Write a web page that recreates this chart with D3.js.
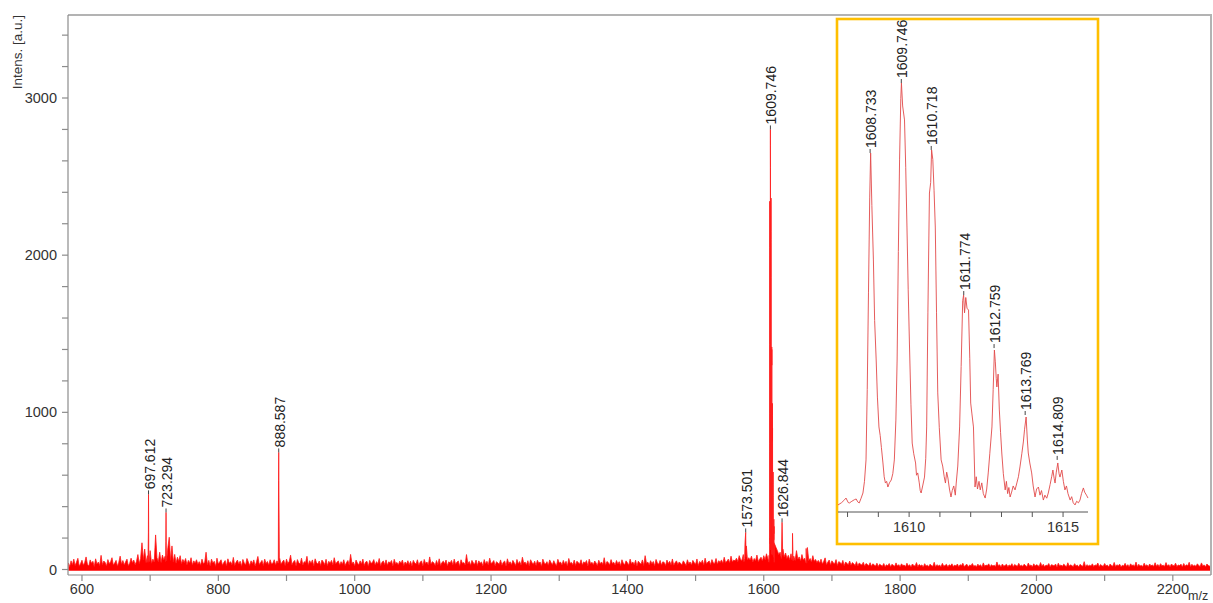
<!DOCTYPE html>
<html><head><meta charset="utf-8">
<script src="https://cdn.jsdelivr.net/npm/d3@7"></script>
<style>
body{margin:0;background:#fff}
svg{display:block}
text{font-family:"Liberation Sans",Arial,Helvetica,sans-serif}
</style>
</head><body>
<svg id="chart" width="1213" height="603"></svg>
<script>
// ---------------- DATA ----------------
// baseline noise of the spectrum, sampled every 2 m/z starting at 580
const noiseStart = 580;
const noiseStep = 2;
const noiseIntens = [
// 580-678
42,18,55,30,66,25,48,71,20,38,59,27,45,80,33,22,61,40,52,19,
68,35,47,26,90,31,54,44,23,63,37,50,75,28,41,58,21,46,85,34,
57,29,49,66,24,39,72,43,60,31,
// 680-778
52,95,38,70,170,62,130,44,88,56,
120,40,66,48,220,75,50,110,45,92,
60,85,70,140,205,58,150,47,96,40,
78,52,88,36,64,45,70,30,58,42,
75,28,55,40,62,33,50,27,66,38,
// 780-878
45,110,30,58,24,66,41,52,20,72,35,48,62,27,44,57,22,68,39,50,
31,77,26,46,60,34,53,21,64,42,29,70,48,25,55,37,61,23,49,83,
32,44,58,26,66,38,51,28,62,35,
// 880-978
40,62,28,55,44,70,33,49,60,25,
66,38,52,91,30,47,58,24,63,41,
36,72,29,50,45,84,27,56,39,61,
22,68,43,35,54,26,60,48,31,65,
24,52,40,58,29,75,37,46,55,27,
// 980-1078
50,33,62,25,45,57,28,96,38,48,
23,60,41,30,55,35,66,26,47,52,
21,58,39,44,63,28,50,36,70,24,
46,54,31,61,27,49,42,57,22,65,
37,45,29,53,40,60,25,48,34,56,
// 1080-1178
30,52,24,58,41,35,62,27,46,55,
22,64,38,48,29,80,34,50,43,26,
57,31,68,25,45,53,36,60,23,49,
41,58,28,66,33,47,54,21,62,39,
44,30,95,36,51,27,58,42,34,60,
// 1180-1278
26,55,40,48,23,63,35,52,29,72,
38,45,57,24,50,41,33,61,27,46,
54,22,68,37,49,30,58,43,25,64,
36,51,28,78,40,47,31,56,24,62,
45,34,53,26,59,39,48,21,66,42,
// 1280-1378
35,50,27,61,44,30,56,38,24,65,
41,47,29,58,34,52,22,70,39,45,
31,60,26,53,43,35,62,28,49,40,
57,23,66,37,46,30,54,42,25,59,
36,48,32,75,27,51,44,29,63,38,
// 1380-1478
46,28,57,35,50,24,62,40,31,55,
43,27,66,37,48,30,59,22,53,41,
34,61,26,88,39,47,29,56,36,51,
23,64,42,33,58,28,49,45,25,60,
38,52,30,67,27,44,55,32,48,39,
// 1480-1578
30,55,41,26,62,37,48,29,58,44,
33,67,25,51,40,59,28,72,36,47,
54,31,63,42,38,70,34,56,45,61,
39,78,44,52,66,41,85,48,60,55,
72,50,88,62,58,95,70,80,64,75,
// 1580-1678
60,85,48,70,56,92,50,66,78,54,
88,62,100,70,90,90,90,90,160,140,
120,95,110,85,130,80,105,70,90,62,
100,75,85,58,120,66,80,54,95,60,
72,50,140,58,70,48,88,52,64,44,
// 1680-1778
58,40,66,35,52,74,30,47,60,28,
55,42,36,63,26,50,45,33,58,24,
48,39,30,54,27,44,36,25,50,22,
41,34,28,46,21,38,32,24,43,20,
36,29,22,40,19,34,27,21,38,18,
// 1780-1878
30,24,38,18,33,27,20,42,22,31,
17,36,25,28,19,40,23,30,16,35,
26,21,44,18,32,24,29,15,37,22,
27,19,34,25,20,46,17,31,23,28,
18,39,21,26,33,16,30,24,36,19,
// 1880-1978
28,22,35,17,31,25,40,19,27,33,
16,29,24,38,20,26,18,34,23,30,
15,42,21,28,25,36,17,31,22,27,
19,48,24,30,16,35,21,26,33,18,
29,23,37,17,32,25,20,39,22,27,
// 1980-2078
20,34,25,18,41,23,29,16,36,22,
30,26,19,44,21,33,17,28,24,38,
18,31,27,22,35,15,40,23,29,20,
34,26,17,43,21,30,24,19,37,22,
28,16,33,25,20,50,18,31,23,27,
// 2080-2178
22,36,19,29,25,41,17,32,24,20,
38,23,28,16,35,26,21,45,19,30,
24,34,18,27,22,39,20,31,16,36,
25,29,21,47,18,33,23,26,19,40,
22,30,17,35,24,28,20,43,21,32,
// 2180-2256
18,37,24,27,20,44,22,31,17,35,
26,23,40,19,29,25,34,16,38,21,
30,24,46,18,33,22,27,20,36,25,
19,42,23,29,17,35,26,21,31
];

// individual peaks of the full spectrum (m/z, intensity)
const peakMz = [
696.8,697.4,697.612,697.9,698.4,
722.6,723.0,723.294,723.6,724.1,
887.8,888.3,888.587,888.9,889.5,
1571.0,1572.5,1573.501,1574.5,1576.0,
1625.8,1626.844,1627.8,
1641.5,1642.2,1643.0,
1661.5,1662.2,1663.0
];
const peakIntens = [
45,235,478,200,50,
50,180,363,150,55,
40,567,745,480,60,
50,170,236,150,60,
70,300,90,
60,230,55,
45,134,40
];

// isotope cluster (zoomed inset), m/z and intensity
const insetMz = [
1607.69,1607.80,1607.88,1607.95,1608.02,1608.06,1608.14,1608.22,1608.28,1608.33,
1608.38,1608.44,1608.50,1608.55,1608.60,1608.64,1608.68,1608.72,1608.75,1608.79,
1608.84,1608.88,1608.93,1608.97,1609.02,1609.06,1609.10,1609.15,1609.19,1609.23,
1609.27,1609.31,1609.36,1609.42,1609.47,1609.52,1609.57,1609.61,1609.65,1609.69,
1609.73,1609.75,1609.79,1609.85,1609.89,1609.93,1609.97,1610.01,1610.06,1610.10,
1610.15,1610.21,1610.24,1610.28,1610.33,1610.36,1610.39,1610.44,1610.50,1610.54,
1610.57,1610.61,1610.66,1610.70,1610.73,1610.77,1610.81,1610.85,1610.89,1610.93,
1610.98,1611.04,1611.09,1611.14,1611.18,1611.22,1611.26,1611.31,1611.36,1611.40,
1611.45,1611.50,1611.53,1611.58,1611.64,1611.69,1611.74,1611.77,1611.80,1611.84,
1611.88,1611.93,1611.97,1612.00,1612.04,1612.09,1612.14,1612.18,1612.22,1612.27,
1612.31,1612.36,1612.41,1612.47,1612.52,1612.57,1612.62,1612.69,1612.73,1612.77,
1612.80,1612.83,1612.85,1612.89,1612.93,1612.97,1613.01,1613.06,1613.12,1613.16,
1613.20,1613.24,1613.28,1613.33,1613.38,1613.44,1613.50,1613.55,1613.60,1613.66,
1613.71,1613.75,1613.80,1613.84,1613.87,1613.92,1613.98,1614.03,1614.09,1614.14,
1614.20,1614.25,1614.30,1614.36,1614.41,1614.47,1614.52,1614.58,1614.63,1614.67,
1614.71,1614.74,1614.78,1614.83,1614.87,1614.90,1614.96,1615.01,1615.06,1615.11,
1615.16,1615.23,1615.28,1615.33,1615.39,1615.44,1615.50,1615.55,1615.60,1615.66,
1615.70,1615.76,1615.81
];
const insetIntens = [
46,60,75,91,62,59,70,80,85,66,
59,90,124,200,340,800,1430,2050,2343,2000,
1645,1250,992,750,555,500,420,320,230,189,
200,163,190,209,250,340,600,992,1700,2298,
2700,2800,2650,2559,2250,1860,1450,1103,700,450,
380,320,240,255,190,140,124,170,228,350,
555,1300,2082,2150,2363,2300,2100,1860,1300,777,
550,340,300,230,189,260,222,150,98,140,
170,110,189,300,555,950,1380,1416,1300,1400,
1330,1318,1000,711,640,555,163,230,150,200,
144,190,120,91,150,255,380,555,800,1057,
980,870,816,900,666,520,385,250,144,200,
120,160,98,130,170,144,190,230,294,380,
457,540,620,470,385,320,255,170,98,150,
163,110,140,78,110,90,124,180,230,274,
220,189,260,320,250,228,274,200,144,170,
120,78,100,60,46,70,60,78,120,157,
130,110,91
];

// labelled peaks
const mainLabelMz = [697.612, 723.294, 888.587, 1573.501, 1609.746, 1626.844];
const mainLabelIntens = [478, 363, 745, 236, 2800, 300];
const insetLabelMz = [1608.733, 1609.746, 1610.718, 1611.774, 1612.759, 1613.769, 1614.809];
const insetLabelIntens = [2343, 2800, 2363, 1416, 1070, 633, 340];

// tick labels
const xTickLabels = [600, 800, 1000, 1200, 1400, 1600, 1800, 2000, 2200];
const yTickLabels = [0, 1000, 2000, 3000];
const insetTickLabels = [1610, 1615];

// ---------------- DRAW ----------------
const svg = d3.select("#chart");
const L = 68, R = 1211, T = 15, B = 575;

const x = d3.scaleLinear().domain([579.5, 2256]).range([L, R]);
const y = d3.scaleLinear().domain([0, 3000]).range([569.5, 98]);

// assemble spectrum points
const pts = [];
noiseIntens.forEach((v, i) => {
  const mz = noiseStart + i * noiseStep;
  if (mz >= insetMz[0] && mz <= insetMz[insetMz.length - 1]) return;
  pts.push([mz, v]);
});
peakMz.forEach((m, i) => pts.push([m, peakIntens[i]]));
insetMz.forEach((m, i) => pts.push([m, insetIntens[i]]));
pts.sort((a, b) => a[0] - b[0]);

svg.append("defs").append("clipPath").attr("id", "plotclip")
  .append("rect").attr("x", L).attr("y", T).attr("width", R - L).attr("height", B - T);

const g = svg.append("g").attr("clip-path", "url(#plotclip)");
g.append("path").datum(pts)
  .attr("fill", "#ff0000")
  .attr("d", d3.area().x(d => x(d[0])).y0(y(-8)).y1(d => y(d[1])));
g.append("path").datum(pts)
  .attr("fill", "none").attr("stroke", "#ff1a1a").attr("stroke-width", 0.8)
  .attr("d", d3.line().x(d => x(d[0])).y(d => y(d[1])));

// frame (top & right)
svg.append("path")
  .attr("d", `M${L},${T}H${R}V${B}`)
  .attr("fill", "none").attr("stroke", "#b3b3b3").attr("stroke-width", 2);

// x axis
const axisColor = "#8c8c8c";
svg.append("line").attr("x1", L).attr("x2", R).attr("y1", B).attr("y2", B)
  .attr("stroke", axisColor).attr("stroke-width", 1.2);
d3.range(600, 2256, 100).forEach(t => {
  svg.append("line").attr("x1", x(t)).attr("x2", x(t)).attr("y1", B).attr("y2", B + 6)
    .attr("stroke", axisColor).attr("stroke-width", 1.2);
});
xTickLabels.forEach(t => {
  svg.append("text").attr("x", x(t)).attr("y", 594).attr("text-anchor", "middle")
    .attr("font-size", 14.5).attr("fill", "#333").text(t);
});
svg.append("text").attr("x", 1188).attr("y", 600).attr("font-size", 12.5).attr("fill", "#333").text("m/z");

// y axis
svg.append("line").attr("x1", L).attr("x2", L).attr("y1", T).attr("y2", B)
  .attr("stroke", axisColor).attr("stroke-width", 1.2);
d3.range(0, 3600, 200).forEach(t => {
  if (y(t) < T) return;
  svg.append("line").attr("x1", L - 6).attr("x2", L).attr("y1", y(t)).attr("y2", y(t))
    .attr("stroke", axisColor).attr("stroke-width", 1.2);
});
yTickLabels.forEach(t => {
  svg.append("text").attr("x", 57).attr("y", y(t)).attr("dy", "0.35em").attr("text-anchor", "end")
    .attr("font-size", 14.5).attr("fill", "#333").text(t);
});
svg.append("text").attr("transform", "translate(22,15) rotate(-90)")
  .attr("text-anchor", "end").attr("font-size", 13.5).attr("fill", "#333").text("Intens. [a.u.]");

// main peak labels
mainLabelMz.forEach((m, i) => {
  const px = x(m), py = y(mainLabelIntens[i]);
  svg.append("line").attr("x1", px).attr("x2", px).attr("y1", py).attr("y2", py - 4)
    .attr("stroke", "#444").attr("stroke-width", 1);
  svg.append("text").attr("transform", `translate(${px + 1},${py - 5}) rotate(-90)`)
    .attr("text-anchor", "start").attr("dominant-baseline", "central")
    .attr("font-size", 14).attr("fill", "#222").text(m.toFixed(3));
});

// ---------------- INSET ----------------
const inset = svg.append("g");
inset.append("rect").attr("x", 837).attr("y", 19).attr("width", 261).attr("height", 525)
  .attr("fill", "#fff").attr("stroke", "#ffbf00").attr("stroke-width", 2.6);

const xi = d3.scaleLinear().domain([1607.69, 1615.81]).range([838, 1088]);
const yi = d3.scaleLinear().domain([0, 2800]).range([512, 83]);

inset.append("path").datum(insetMz.map((m, i) => [m, insetIntens[i]]))
  .attr("fill", "none").attr("stroke", "#e24a4a").attr("stroke-width", 0.9)
  .attr("d", d3.line().x(d => xi(d[0])).y(d => yi(d[1])));

inset.append("line").attr("x1", 838).attr("x2", 1088).attr("y1", 512).attr("y2", 512)
  .attr("stroke", "#555").attr("stroke-width", 1);
d3.range(1608, 1616, 1).forEach(t => {
  inset.append("line").attr("x1", xi(t)).attr("x2", xi(t)).attr("y1", 512).attr("y2", 517)
    .attr("stroke", "#555").attr("stroke-width", 1);
});
insetTickLabels.forEach(t => {
  inset.append("text").attr("x", xi(t)).attr("y", 532).attr("text-anchor", "middle")
    .attr("font-size", 14.5).attr("fill", "#333").text(t);
});
insetLabelMz.forEach((m, i) => {
  const px = xi(m), py = yi(insetLabelIntens[i]);
  inset.append("line").attr("x1", px).attr("x2", px).attr("y1", py).attr("y2", py - 4)
    .attr("stroke", "#444").attr("stroke-width", 1);
  inset.append("text").attr("transform", `translate(${px + 1},${py - 5}) rotate(-90)`)
    .attr("text-anchor", "start").attr("dominant-baseline", "central")
    .attr("font-size", 14).attr("fill", "#222").text(m.toFixed(3));
});
</script>
</body></html>
